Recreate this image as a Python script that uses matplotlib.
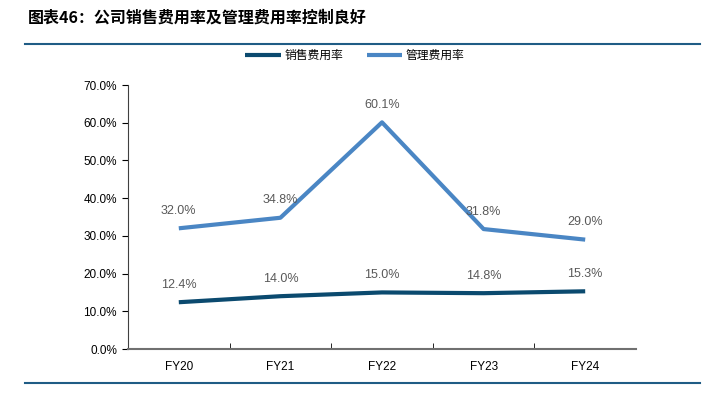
import matplotlib.pyplot as plt
import numpy as np

plt.rcParams['font.family'] = ['Liberation Sans', 'Noto Sans CJK SC', 'DejaVu Sans']

years = ['FY20', 'FY21', 'FY22', 'FY23', 'FY24']
sales_rate = [12.4, 14.0, 15.0, 14.8, 15.3]
admin_rate = [32.0, 34.8, 60.1, 31.8, 29.0]
yticks = [0, 10, 20, 30, 40, 50, 60, 70]

c_sales = '#0b4a6f'
c_admin = '#4a86c4'

fig = plt.figure(figsize=(7.04, 3.93), dpi=100)
ax = fig.add_axes([128/704, 1-349/393, 508/704, 264/393])

x = np.arange(len(years))
ax.plot(x, sales_rate, color=c_sales, lw=3, label='销售费用率', solid_capstyle='butt')
ax.plot(x, admin_rate, color=c_admin, lw=3, label='管理费用率', solid_capstyle='butt')

for xi, v in zip(x, sales_rate):
    ax.text(xi, v + 3.0, f'{v:.1f}%', ha='center', va='bottom', fontsize=9, color='#595959')
for xi, v in zip(x, admin_rate):
    ax.text(xi, v + 3.0, f'{v:.1f}%', ha='center', va='bottom', fontsize=9, color='#595959')

ax.set_xlim(-0.5, len(years) - 0.5)
ax.set_ylim(0, 70)
ax.set_yticks(yticks)
ax.set_yticklabels([f'{t:.1f}%' for t in yticks], fontsize=8.5)
ax.set_xticks(x)
ax.set_xticklabels(years, fontsize=8.5)
ax.tick_params(axis='x', length=0, pad=9)
ax.set_xticks(np.arange(0.5, len(years) - 1, 1), minor=True)
ax.tick_params(axis='x', which='minor', direction='in', length=4, color='#000000')
ax.tick_params(axis='y', direction='out', length=4, color='#000000', pad=4)

for s in ['top', 'right']:
    ax.spines[s].set_visible(False)
ax.spines['left'].set_color('#404040')
ax.spines['bottom'].set_color('#707070')
ax.spines['bottom'].set_linewidth(1.5)

fig.legend(loc='center', bbox_to_anchor=(355/704, 1-56/393), ncol=2, frameon=False,
           fontsize=8.5, handlelength=3.0, columnspacing=2, handletextpad=0.3)

fig.text(28/704, 1-18/393, '图表46：公司销售费用率及管理费用率控制良好', fontsize=11.5,
         fontweight='bold', style='italic', va='center', ha='left',
         family=['Noto Sans CJK SC', 'DejaVu Sans'])
fig.add_artist(plt.Line2D([25/704, 700/704], [1-44/393, 1-44/393], color='#1f5c85', lw=1.5))
fig.add_artist(plt.Line2D([25/704, 700/704], [1-383/393, 1-383/393], color='#1f5c85', lw=1.5))

fig.savefig('out.png', dpi=100)
